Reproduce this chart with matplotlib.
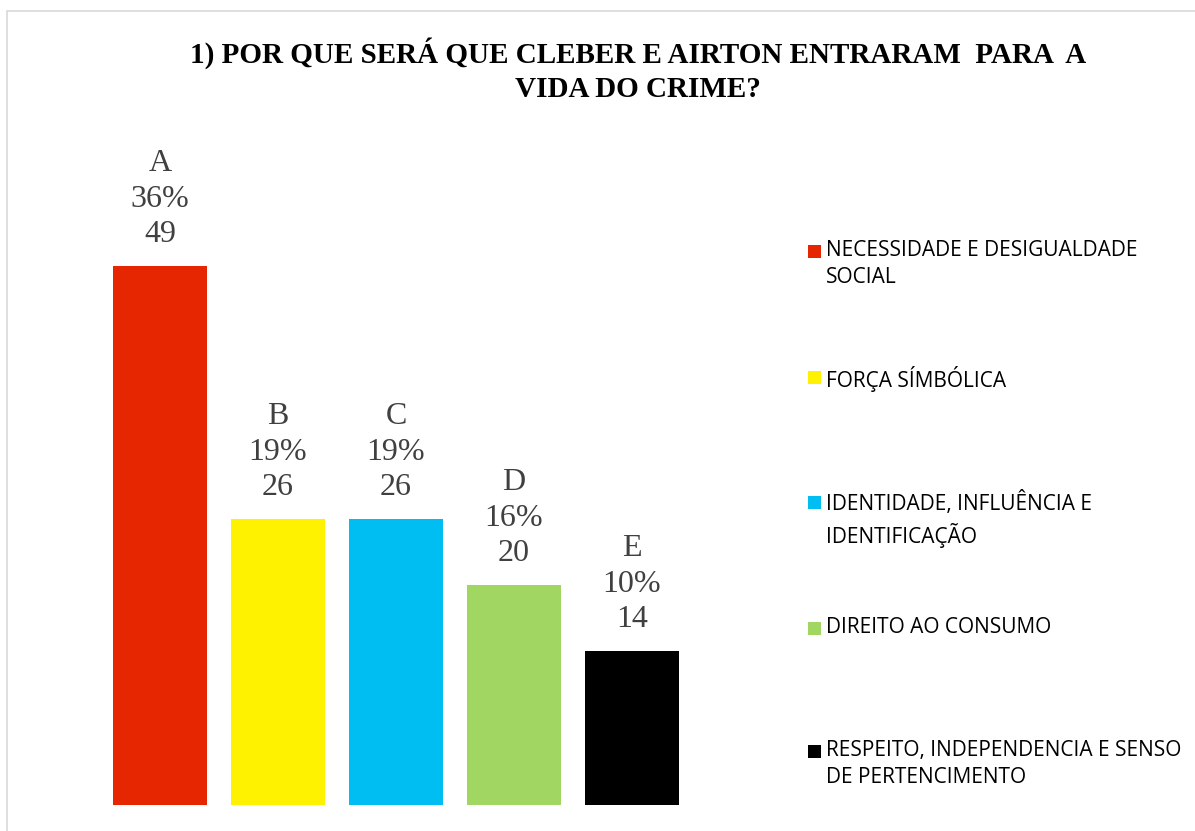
import matplotlib.pyplot as plt
from matplotlib.patches import Rectangle

letters = ['A', 'B', 'C', 'D', 'E']
percents = ['36%', '19%', '19%', '16%', '10%']
counts = [49, 26, 26, 20, 14]
categories = [
    'NECESSIDADE E DESIGUALDADE\nSOCIAL',
    'FORÇA SÍMBÓLICA',
    'IDENTIDADE, INFLUÊNCIA E\nIDENTIFICAÇÃO',
    'DIREITO AO CONSUMO',
    'RESPEITO, INDEPENDENCIA E SENSO\nDE PERTENCIMENTO',
]
colors = ['#E62600', '#FFF200', '#00BEF2', '#A1D663', '#000000']

W, H = 1195, 831
fig = plt.figure(figsize=(W / 100, H / 100), dpi=100)

# light frame around the chart area
fig.patches.append(Rectangle((7 / W, -0.1), 1.2, 1 - 11 / H + 0.1,
                             transform=fig.transFigure, fill=False,
                             edgecolor='#D9D9D9', linewidth=1.2))

# axes placed in pixel terms: x from 101 to 691, y from 805 up to 145
ax = fig.add_axes([101 / W, (H - 805) / H, 590 / W, 660 / H])
x = range(len(counts))
bars = ax.bar(x, counts, width=0.8, color=colors)
ax.set_xlim(-0.5, 4.5)
ax.set_ylim(0, 60)
ax.axis('off')

for xi, letter, pct, n in zip(x, letters, percents, counts):
    ax.annotate(f'{letter}\n{pct}\n{n}', (xi, n), xytext=(0, 12),
                textcoords='offset points', ha='center', va='bottom',
                fontsize=23, family='Liberation Serif', color='#404040',
                linespacing=1.3)

fig.text(638 / W, 1 - 70 / H,
         '1) POR QUE SERÁ QUE CLEBER E AIRTON ENTRARAM  PARA  A\nVIDA DO CRIME?',
         ha='center', va='center', fontsize=21, fontweight='bold',
         family='Liberation Serif', linespacing=1.3)

# legend entries, one per category, spaced down the right side
legend_y = [251, 377, 502, 628, 751]
for y, lab, c in zip(legend_y, categories, colors):
    fig.patches.append(Rectangle((808 / W, 1 - (y + 7) / H), 13 / W, 13 / H,
                                 transform=fig.transFigure, facecolor=c,
                                 edgecolor='none'))
    fig.text(826 / W, 1 - (y - 11) / H, lab, ha='left', va='top',
             fontsize=15, family='Open Sans', color='#000000',
             linespacing=1.4)

fig.savefig('out.png', dpi=100, facecolor='white')
